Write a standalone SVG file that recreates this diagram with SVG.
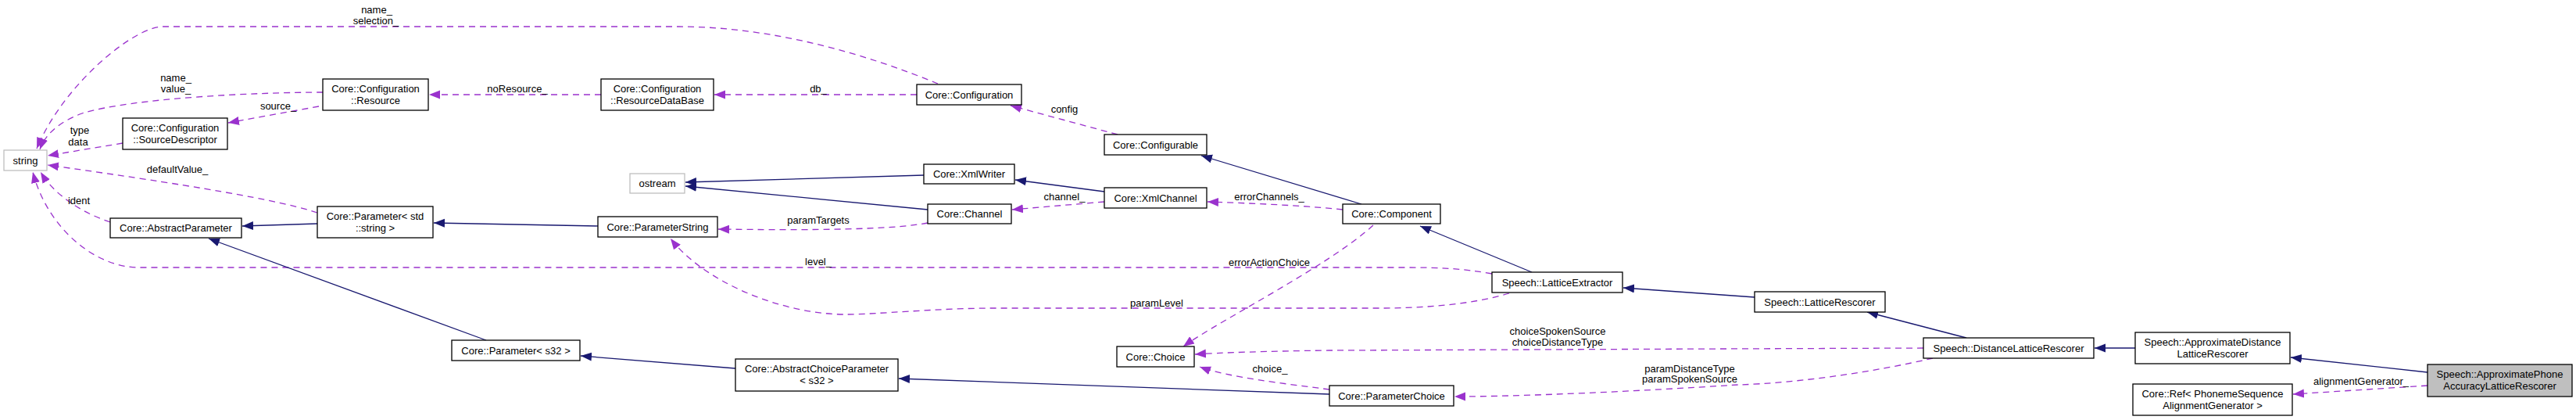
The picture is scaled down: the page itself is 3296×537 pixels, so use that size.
<svg xmlns="http://www.w3.org/2000/svg" width="3296" height="537" viewBox="0 0 3296 537">
<style>
.bg{fill:#ffffff}
.n rect{fill:#ffffff;stroke:#000000;stroke-width:1.3}
.n.ext rect{stroke:#bfbfbf}
.n.main rect{fill:#bfbfbf}
.n text,.lbl{font-family:"Liberation Sans",Arial,Helvetica,sans-serif;font-size:13px;fill:#000000}
.n text{text-anchor:middle}
.lbl{text-anchor:middle}
.inh{fill:none;stroke:#191970;stroke-width:1.3;marker-end:url(#ah)}
.dep{fill:none;stroke:#9a32cd;stroke-width:1.3;stroke-dasharray:8,6;marker-end:url(#ap)}
</style>
<defs>
<marker id="ah" markerUnits="userSpaceOnUse" markerWidth="16" markerHeight="12" refX="14" refY="5.5" orient="auto">
<path d="M0,0 L14,5.5 L0,11 z" fill="#191970" stroke="none"/>
</marker>
<marker id="ap" markerUnits="userSpaceOnUse" markerWidth="16" markerHeight="12" refX="14" refY="5.5" orient="auto">
<path d="M0,0 L14,5.5 L0,11 z" fill="#9a32cd" stroke="none"/>
</marker>
</defs>
<rect class="bg" x="0" y="0" width="3296" height="537"/>

<g id="connectors">
<path class="dep" d="M1200,107 C1110,70 990,34 868,34 L209,34 C170,34 80,110 47,190"/>
<text class="lbl" x="482" y="17">name_</text>
<text class="lbl" x="481" y="31">selection_</text>

<path class="dep" d="M413,118 C330,118 170,125 105,145 C75,156 58,172 51,191"/>
<text class="lbl" x="225" y="104">name_</text>
<text class="lbl" x="225" y="118">value_</text>

<path class="dep" d="M408,136 L292,157"/>
<text class="lbl" x="356" y="140">source_</text>

<path class="dep" d="M157,183 L61,199"/>
<text class="lbl" x="102" y="171">type</text>
<text class="lbl" x="100" y="186">data</text>

<path class="dep" d="M406,272 C370,260 290,243 61,211"/>
<text class="lbl" x="227" y="221">defaultValue_</text>

<path class="dep" d="M141,284 C105,272 70,250 52,220"/>
<text class="lbl" x="101" y="261">ident</text>

<path class="dep" d="M1909,350 C1870,343 1840,342 1800,342 L178,342 C120,342 60,290 42,220"/>
<text class="lbl" x="1047" y="339">level_</text>

<path class="dep" d="M769,121 L549,121"/>
<text class="lbl" x="662" y="118">noResource_</text>

<path class="dep" d="M1173,121 L914,121"/>
<text class="lbl" x="1047" y="118">db_</text>

<path class="dep" d="M1430,172 L1293,135"/>
<text class="lbl" x="1362" y="144">config</text>

<path class="dep" d="M1413,258 L1295,268"/>
<text class="lbl" x="1362" y="256">channel_</text>

<path class="dep" d="M1718,268 C1660,262 1600,260 1545,258"/>
<text class="lbl" x="1624" y="256">errorChannels_</text>

<path class="dep" d="M1187,285 C1150,292 1080,295 919,293"/>
<text class="lbl" x="1047" y="286">paramTargets</text>

<path class="dep" d="M1931,375 C1880,390 1820,394 1763,394 L1271,394 C1200,394 1120,402 1082,402 C1000,402 900,360 858,305"/>
<text class="lbl" x="1480" y="392">paramLevel</text>

<path class="dep" d="M1757,288 C1700,340 1560,410 1514,443"/>
<text class="lbl" x="1624" y="340">errorActionChoice</text>

<path class="dep" d="M2461,445 L1700,448 C1620,449 1560,451 1529,453"/>
<text class="lbl" x="1993" y="428">choiceSpokenSource</text>
<text class="lbl" x="1993" y="442">choiceDistanceType</text>

<path class="dep" d="M1701,498 C1640,490 1570,482 1535,469"/>
<text class="lbl" x="1625" y="476">choice_</text>

<path class="dep" d="M2473,458 C2400,475 2300,490 2223,492 C2100,500 1950,507 1861,507"/>
<text class="lbl" x="2162" y="476">paramDistanceType</text>
<text class="lbl" x="2162" y="489">paramSpokenSource</text>

<path class="dep" d="M3106,493 L2934,504"/>
<text class="lbl" x="3021" y="492">alignmentGenerator_</text>

<path class="inh" d="M1742,261 L1537,199"/>
<path class="inh" d="M1182,224 L877,233"/>
<path class="inh" d="M1187,268 L877,238"/>
<path class="inh" d="M1413,245 L1299,230"/>
<path class="inh" d="M765,289 L555,285"/>
<path class="inh" d="M406,286 L310,289"/>
<path class="inh" d="M1701,504 L1150,484"/>
<path class="inh" d="M941,471 L743,455"/>
<path class="inh" d="M622,435 L267,305"/>
<path class="inh" d="M1960,348 L1817,289"/>
<path class="inh" d="M2245,380 L2077,368"/>
<path class="inh" d="M2516,432 L2389,399"/>
<path class="inh" d="M2732,445 L2680,445"/>
<path class="inh" d="M3106,476 L2931,457"/>
</g>

<g id="node-string" class="n ext"><rect x="5" y="192" width="55" height="26"/><text x="32.5" y="209.5">string</text></g>
<g id="node-sourcedescriptor" class="n"><rect x="157" y="151" width="134" height="40"/><text x="224" y="167.5">Core::Configuration</text><text x="224" y="182.5">::SourceDescriptor</text></g>
<g id="node-resource" class="n"><rect x="413" y="101" width="135" height="40"/><text x="480.5" y="117.5">Core::Configuration</text><text x="480.5" y="132.5">::Resource</text></g>
<g id="node-resourcedatabase" class="n"><rect x="769" y="101" width="144" height="40"/><text x="841" y="117.5">Core::Configuration</text><text x="841" y="132.5">::ResourceDataBase</text></g>
<g id="node-configuration" class="n"><rect x="1173" y="108" width="134" height="26"/><text x="1240" y="125.5">Core::Configuration</text></g>
<g id="node-configurable" class="n"><rect x="1413" y="172" width="131" height="26"/><text x="1478.5" y="189.5">Core::Configurable</text></g>
<g id="node-ostream" class="n ext"><rect x="806" y="222" width="70" height="25"/><text x="841" y="239">ostream</text></g>
<g id="node-xmlwriter" class="n"><rect x="1182" y="210" width="116" height="25"/><text x="1240" y="227">Core::XmlWriter</text></g>
<g id="node-xmlchannel" class="n"><rect x="1413" y="240" width="131" height="26"/><text x="1478.5" y="257.5">Core::XmlChannel</text></g>
<g id="node-channel" class="n"><rect x="1187" y="261" width="107" height="25"/><text x="1240.5" y="278">Core::Channel</text></g>
<g id="node-component" class="n"><rect x="1718" y="261" width="125" height="25"/><text x="1780.5" y="278">Core::Component</text></g>
<g id="node-abstractparameter" class="n"><rect x="141" y="279" width="168" height="25"/><text x="225" y="296">Core::AbstractParameter</text></g>
<g id="node-parameter-string" class="n"><rect x="406" y="264" width="148" height="40"/><text x="480" y="280.5">Core::Parameter&lt; std</text><text x="480" y="295.5">::string &gt;</text></g>
<g id="node-parameterstring" class="n"><rect x="765" y="277" width="153" height="26"/><text x="841.5" y="294.5">Core::ParameterString</text></g>
<g id="node-latticeextractor" class="n"><rect x="1909" y="348" width="167" height="26"/><text x="1992.5" y="365.5">Speech::LatticeExtractor</text></g>
<g id="node-latticerescorer" class="n"><rect x="2245" y="373" width="167" height="26"/><text x="2328.5" y="390.5">Speech::LatticeRescorer</text></g>
<g id="node-parameter-s32" class="n"><rect x="578" y="435" width="164" height="26"/><text x="660" y="452.5">Core::Parameter&lt; s32 &gt;</text></g>
<g id="node-abstractchoiceparameter" class="n"><rect x="941" y="459" width="208" height="41"/><text x="1045" y="475.5">Core::AbstractChoiceParameter</text><text x="1045" y="490.5">&lt; s32 &gt;</text></g>
<g id="node-choice" class="n"><rect x="1429" y="443" width="99" height="26"/><text x="1478.5" y="460.5">Core::Choice</text></g>
<g id="node-parameterchoice" class="n"><rect x="1701" y="493" width="159" height="26"/><text x="1780.5" y="510.5">Core::ParameterChoice</text></g>
<g id="node-distancelatticerescorer" class="n"><rect x="2461" y="432" width="218" height="26"/><text x="2570" y="449.5">Speech::DistanceLatticeRescorer</text></g>
<g id="node-approximatedistance" class="n"><rect x="2732" y="425" width="198" height="40"/><text x="2831" y="441.5">Speech::ApproximateDistance</text><text x="2831" y="456.5">LatticeRescorer</text></g>
<g id="node-ref" class="n"><rect x="2729" y="491" width="204" height="40"/><text x="2831" y="507.5">Core::Ref&lt; PhonemeSequence</text><text x="2831" y="522.5">AlignmentGenerator &gt;</text></g>
<g id="node-approximatephone" class="n main"><rect x="3106" y="466" width="185" height="41"/><text x="3198.5" y="482.5">Speech::ApproximatePhone</text><text x="3198.5" y="497.5">AccuracyLatticeRescorer</text></g>
</svg>
